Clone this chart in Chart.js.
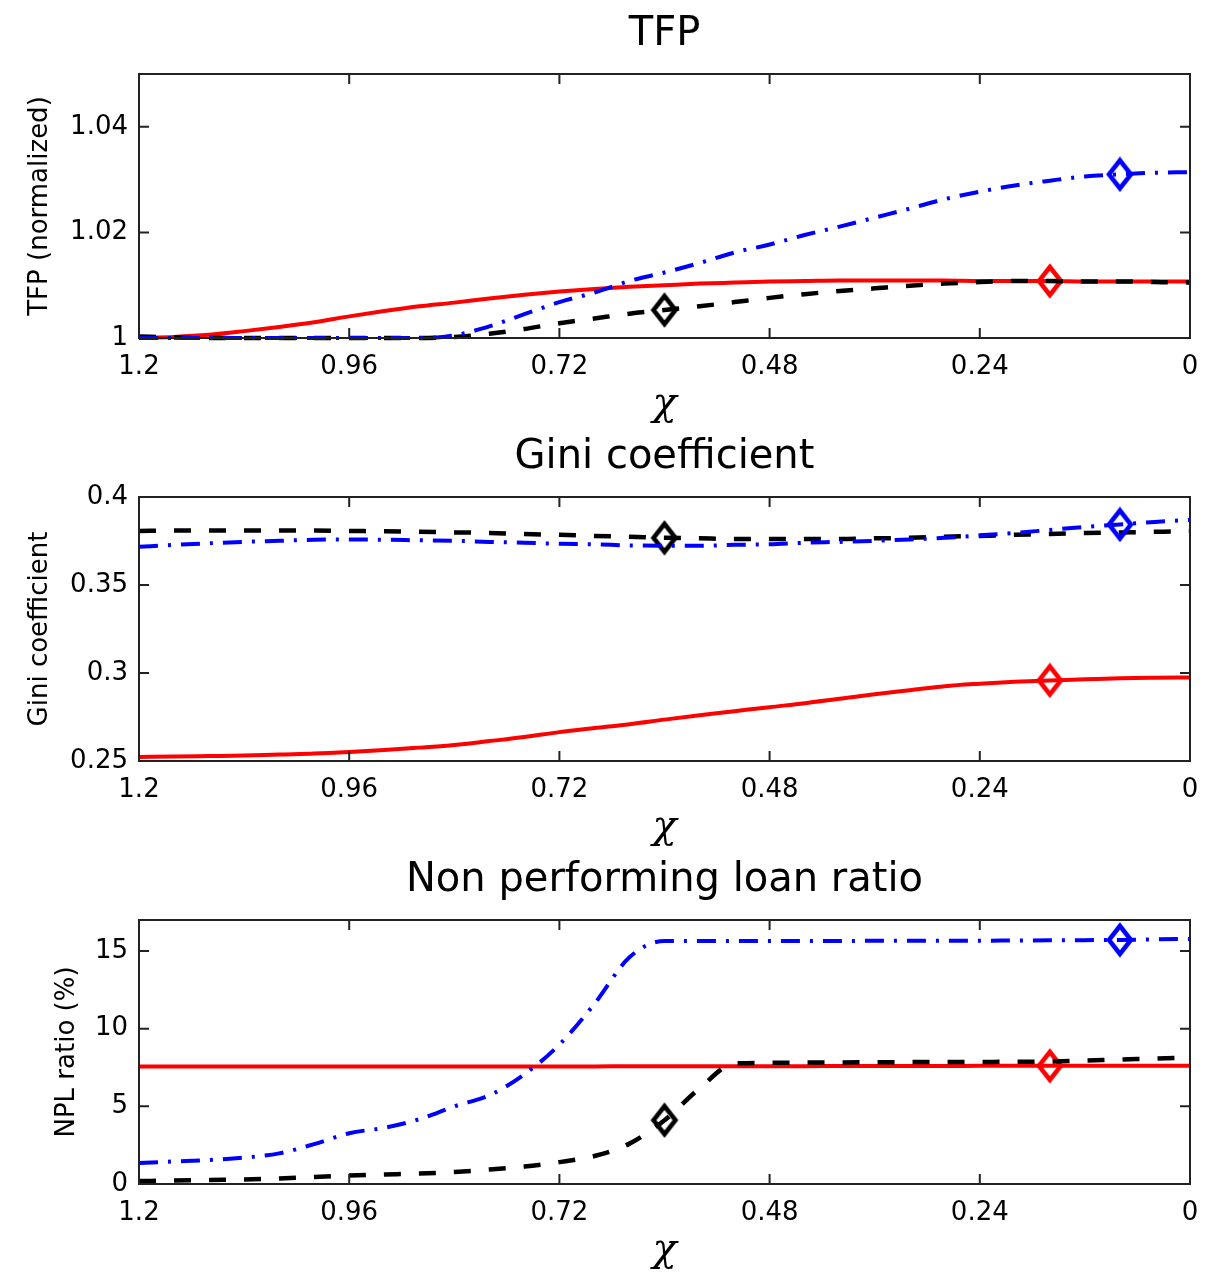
<!DOCTYPE html>
<html><head><meta charset="utf-8">
<script src="https://cdn.jsdelivr.net/npm/chart.js@4/dist/chart.umd.min.js"></script>
<style>
html,body{margin:0;padding:0;background:#fff;overflow:hidden;width:1215px;height:1275px;}
canvas{position:absolute;left:0;}
</style></head><body>
<canvas id="c1" width="1215" height="440" style="top:0px"></canvas>
<canvas id="c2" width="1215" height="440" style="top:423px"></canvas>
<canvas id="c3" width="1215" height="440" style="top:846px"></canvas>
<script>
// ---- data ----
const chi = [1.2,1.16,1.12,1.08,1.04,1.0,0.96,0.92,0.88,0.84,0.8,0.76,0.72,0.68,0.64,0.6,0.56,0.52,0.48,0.44,0.4,0.36,0.32,0.28,0.24,0.2,0.16,0.12,0.08,0.04,0];
const xTicks = [1.2,0.96,0.72,0.48,0.24,0];
const xTickLabels = ['1.2','0.96','0.72','0.48','0.24','0'];

const markerChiBlack = 0.6;
const markerChiRed = 0.16;
const markerChiBlue = 0.08;

const tfpRed   = [1.0000,1.0002,1.0006,1.0013,1.0021,1.0030,1.0041,1.0051,1.0060,1.0067,1.0075,1.0082,1.0088,1.0093,1.0097,1.0100,1.0103,1.0105,1.0107,1.0108,1.0109,1.0109,1.0109,1.0109,1.0108,1.0108,1.0108,1.0107,1.0107,1.0107,1.0107];
const tfpBlack = [1.0003,1.0001,1.0000,1.0000,1.0000,1.0000,1.0000,1.0000,1.0000,1.0002,1.0008,1.0017,1.0028,1.0037,1.0046,1.0053,1.0060,1.0068,1.0076,1.0083,1.0089,1.0094,1.0099,1.0103,1.0106,1.0108,1.0108,1.0107,1.0107,1.0106,1.0105];
const tfpBlue  = [1.0000,1.0000,1.0000,1.0000,1.0000,1.0000,1.0000,1.0000,1.0000,1.0005,1.0022,1.0045,1.0068,1.0086,1.0108,1.0124,1.0142,1.0162,1.0177,1.0195,1.0211,1.0228,1.0245,1.0263,1.0277,1.0289,1.0298,1.0306,1.0310,1.0313,1.0314];
const tfpTicks = [1,1.02,1.04];
const tfpTickLabels = ['1','1.02','1.04'];

const giniRed   = [0.2523,0.2525,0.2528,0.2531,0.2537,0.2542,0.2551,0.2562,0.2576,0.2591,0.2613,0.2636,0.2664,0.2687,0.2709,0.2735,0.2760,0.2783,0.2806,0.2828,0.2854,0.2879,0.2902,0.2925,0.2939,0.2950,0.2958,0.2964,0.2970,0.2973,0.2975];
const giniBlack = [0.3807,0.3810,0.3810,0.3810,0.3810,0.3810,0.3807,0.3805,0.3802,0.3799,0.3796,0.3790,0.3785,0.3779,0.3774,0.3768,0.3765,0.3762,0.3762,0.3762,0.3762,0.3765,0.3768,0.3774,0.3779,0.3785,0.3790,0.3796,0.3799,0.3802,0.3805];
const giniBlue  = [0.3717,0.3728,0.3737,0.3745,0.3751,0.3757,0.3759,0.3757,0.3754,0.3751,0.3745,0.3740,0.3734,0.3731,0.3725,0.3723,0.3723,0.3728,0.3731,0.3740,0.3745,0.3751,0.3759,0.3768,0.3782,0.3796,0.3813,0.3830,0.3844,0.3858,0.3870];
const giniTicks = [0.25,0.3,0.35,0.4];
const giniTickLabels = ['0.25','0.3','0.35','0.4'];

const nplRed   = [7.56,7.56,7.56,7.56,7.56,7.56,7.56,7.56,7.56,7.56,7.56,7.57,7.57,7.57,7.58,7.58,7.58,7.59,7.59,7.59,7.60,7.60,7.60,7.60,7.61,7.61,7.61,7.61,7.62,7.62,7.62];
const nplBlack = [0.19,0.22,0.26,0.29,0.35,0.45,0.55,0.61,0.67,0.77,0.93,1.12,1.41,1.80,2.60,4.11,6.16,7.76,7.80,7.82,7.83,7.84,7.85,7.85,7.86,7.87,7.89,7.95,8.02,8.08,8.15];
const nplBlue  = [1.35,1.45,1.55,1.70,1.97,2.57,3.27,3.62,4.17,5.00,5.71,7.06,8.98,11.6,14.6,15.65,15.65,15.65,15.65,15.65,15.65,15.66,15.66,15.67,15.67,15.68,15.69,15.70,15.72,15.75,15.78];
const nplTicks = [0,5,10,15];
const nplTickLabels = ['0','5','10','15'];

// ---- styling helpers ----
function diamond(color){
  const c = document.createElement('canvas');
  c.width = 30; c.height = 36;
  const g = c.getContext('2d');
  g.strokeStyle = color; g.lineWidth = 4.5; g.lineJoin = 'miter';
  g.beginPath(); g.moveTo(15,4); g.lineTo(26,18); g.lineTo(15,32); g.lineTo(4,18); g.closePath(); g.stroke();
  return c;
}
const dRed = diamond('#ff0000'), dBlack = diamond('#000000'), dBlue = diamond('#0000ff');

function series(values, color, dash, width, markChi, marker){
  const mIdx = chi.indexOf(markChi);
  return {
    data: chi.map((x,i)=>({x:x, y:values[i]})),
    borderColor: color, backgroundColor: color,
    borderWidth: width, borderDash: dash, borderCapStyle:'butt',
    cubicInterpolationMode:'monotone', fill:false, clip:6,
    pointStyle: marker,
    pointRadius: ctx => ctx.dataIndex === mIdx ? 12 : 0,
    pointHoverRadius: ctx => ctx.dataIndex === mIdx ? 12 : 0,
    pointHitRadius: 0
  };
}

const boxPlugin = {
  id:'matlabBox',
  afterDatasetsDraw(chart){
    const {ctx, chartArea:a, scales:{x, y}} = chart;
    ctx.save();
    ctx.strokeStyle = '#222'; ctx.lineWidth = 2;
    ctx.strokeRect(a.left, a.top, a.right - a.left, a.bottom - a.top);
    ctx.beginPath();
    x.ticks.forEach(t => {
      const px = x.getPixelForValue(t.value);
      ctx.moveTo(px, a.bottom); ctx.lineTo(px, a.bottom - 10);
      ctx.moveTo(px, a.top); ctx.lineTo(px, a.top + 10);
    });
    y.ticks.forEach(t => {
      const py = y.getPixelForValue(t.value);
      ctx.moveTo(a.left, py); ctx.lineTo(a.left + 10, py);
      ctx.moveTo(a.right, py); ctx.lineTo(a.right - 10, py);
    });
    ctx.stroke();
    ctx.restore();
  },
  afterDraw(chart, args, opts){
    const {ctx, chartArea:a} = chart;
    ctx.save();
    ctx.fillStyle = '#000';
    ctx.font = '40px "DejaVu Sans"';
    ctx.textAlign = 'center';
    ctx.textBaseline = 'middle';
    ctx.fillText(opts.text, (a.left + a.right) / 2, 35);
    ctx.restore();
  }
};

function makeChart(id, title, yTitle, yTitlePad, yMin, yMax, yTicks, yTickLabels, red, black, blue){
  return new Chart(document.getElementById(id), {
    type:'line',
    data:{ datasets:[
      series(blue, '#0000ff', [19,10,3,10], 4, markerChiBlue, dBlue),
      series(black, '#000000', [17,18], 4.5, markerChiBlack, dBlack),
      series(red, '#ff0000', [], 4, markerChiRed, dRed)
    ]},
    options:{
      responsive:false, animation:false, events:[],
      layout:{ padding:{left:0, right:25, top:74, bottom:0} },
      plugins:{
        legend:{display:false}, tooltip:{enabled:false}, title:{display:false},
        matlabBox:{ text:title }
      },
      scales:{
        x:{ type:'linear', reverse:true, min:0, max:1.2,
          afterBuildTicks: s => { s.ticks = xTicks.map(v => ({value:v})); },
          afterFit: s => { s.height = 102; },
          grid:{display:false, drawTicks:false}, border:{display:false},
          ticks:{ padding:14, color:'#000', maxRotation:0, autoSkip:false,
            font:{family:'DejaVu Sans', size:26, lineHeight:1.2},
            callback: v => { const k = xTicks.indexOf(v); return k >= 0 ? xTickLabels[k] : ''; } },
          title:{ display:true, text:'χ', color:'#000',
            font:{family:'DejaVu Serif', style:'italic', size:40, lineHeight:1},
            padding:{top:0, bottom:15} }
        },
        y:{ type:'linear', min:yMin, max:yMax,
          afterBuildTicks: s => { s.ticks = yTicks.map(v => ({value:v})); },
          afterFit: s => { s.width = 139; },
          grid:{display:false, drawTicks:false}, border:{display:false},
          ticks:{ padding:11, color:'#000',
            font:{family:'DejaVu Sans', size:26},
            callback: v => { const k = yTicks.indexOf(v); return k >= 0 ? yTickLabels[k] : ''; } },
          title:{ display:true, text:yTitle, color:'#000',
            font:{family:'DejaVu Sans', size:26, lineHeight:1},
            padding:{top:yTitlePad, bottom:0} }
        }
      }
    },
    plugins:[boxPlugin]
  });
}

makeChart('c1', 'TFP', 'TFP (normalized)', 27, 1, 1.05, tfpTicks, tfpTickLabels, tfpRed, tfpBlack, tfpBlue);
makeChart('c2', 'Gini coefficient', 'Gini coefficient', 27, 0.25, 0.4, giniTicks, giniTickLabels, giniRed, giniBlack, giniBlue);
makeChart('c3', 'Non performing loan ratio', 'NPL ratio (%)', 54, 0, 17, nplTicks, nplTickLabels, nplRed, nplBlack, nplBlue);
</script>
</body></html>
